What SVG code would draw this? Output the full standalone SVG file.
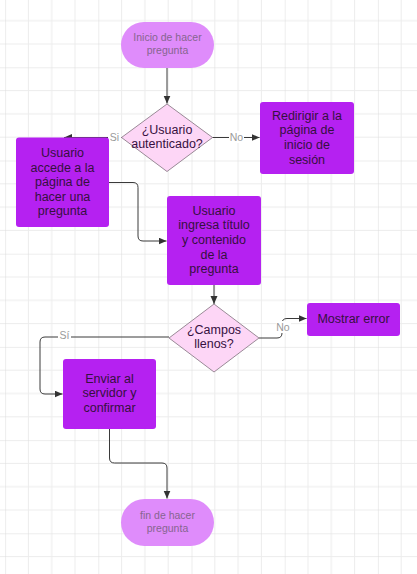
<svg xmlns="http://www.w3.org/2000/svg" width="417" height="574" viewBox="0 0 417 574">
<style>
.conn{fill:none;stroke:#3a3a3a;stroke-width:1}
.term{fill:#df8cfb}
.termt{font-family:"Liberation Sans",Arial,sans-serif;font-size:10.5px;fill:#86658f;text-anchor:middle}
.dec{fill:#fdd6f6;stroke:#9a8a97;stroke-width:1}
.proc{fill:#b521f1}
.t{font-family:"Liberation Sans",Arial,sans-serif;font-size:12.5px;fill:#36103f;text-anchor:middle}
.lbl{font-family:"Liberation Sans",Arial,sans-serif;font-size:10.5px;fill:#9a9a9a;text-anchor:middle}
.lbg{fill:#ffffff}
</style>
<defs>
<pattern id="grid" patternUnits="userSpaceOnUse" x="5.1" y="67.3" width="93.2" height="93.2">
<path d="M23.3 0V93.2M46.6 0V93.2M69.9 0V93.2M0 23.3H93.2M0 46.6H93.2M0 69.9H93.2" stroke="#ececec" stroke-width="1" fill="none"/>
<path d="M0 0V93.2M0 0H93.2" stroke="#dcdcdc" stroke-width="1" fill="none"/>
</pattern>
<marker id="arr" markerUnits="userSpaceOnUse" markerWidth="9" markerHeight="8" refX="8" refY="3.5" orient="auto">
<path d="M0 0L8 3.5L0 7z" fill="#333"/>
</marker>
</defs>
<rect x="0" y="0" width="417" height="574" fill="#ffffff"/>
<rect x="0" y="0" width="417" height="574" fill="url(#grid)"/>

<g id="connectors">
<path class="conn" d="M167 68V103.5" marker-end="url(#arr)"/>
<path class="conn" d="M122 137.5H64" marker-end="url(#arr)"/>
<path class="conn" d="M212 137.5H259.5" marker-end="url(#arr)"/>
<path class="conn" d="M109 182.5H133Q138 182.5 138 187.5V236Q138 241 143 241H166.5" marker-end="url(#arr)"/>
<path class="conn" d="M214 285V304" marker-end="url(#arr)"/>
<path class="conn" d="M259 338H277Q282 338 282 333V323.5Q282 318.5 287 318.5H306.5" marker-end="url(#arr)"/>
<path class="conn" d="M169 337H45Q40 337 40 342V389Q40 394 45 394H62.5" marker-end="url(#arr)"/>
<path class="conn" d="M109.5 429V458Q109.5 463 114.5 463H162Q167 463 167 468V498.5" marker-end="url(#arr)"/>
<rect class="lbg" x="108" y="131" width="13" height="12"/>
<text class="lbl" x="114.5" y="141">Si</text>
<rect class="lbg" x="229" y="131" width="15" height="12"/>
<text class="lbl" x="236.5" y="141">No</text>
<rect class="lbg" x="276" y="321" width="15" height="12"/>
<text class="lbl" x="283" y="331">No</text>
<rect class="lbg" x="58" y="329" width="13" height="12"/>
<text class="lbl" x="64.5" y="338.5">Sí</text>
</g>

<g id="inicio">
<rect class="term" x="121" y="22" width="93" height="46" rx="23"/>
<text class="termt" x="167.5" y="41">Inicio de hacer</text>
<text class="termt" x="167.5" y="54">pregunta</text>
</g>

<g id="autenticado">
<polygon class="dec" points="167,104 212.5,137.5 167,171.5 121.5,137.5"/>
<text class="t" x="167" y="133.7">¿Usuario</text>
<text class="t" x="167" y="147.7">autenticado?</text>
</g>

<g id="redirigir">
<rect class="proc" x="260" y="102" width="94" height="72" rx="3"/>
<text class="t" x="307" y="119.5">Redirigir a la</text>
<text class="t" x="307" y="134.3">página de</text>
<text class="t" x="307" y="149">inicio de</text>
<text class="t" x="307" y="163.8">sesión</text>
</g>

<g id="accede">
<rect class="proc" x="16" y="137.5" width="93" height="89.5" rx="3"/>
<text class="t" x="62.5" y="157">Usuario</text>
<text class="t" x="62.5" y="171.6">accede a la</text>
<text class="t" x="62.5" y="186.2">página de</text>
<text class="t" x="62.5" y="200.8">hacer una</text>
<text class="t" x="62.5" y="215.4">pregunta</text>
</g>

<g id="ingresa">
<rect class="proc" x="167" y="196" width="94" height="89" rx="3"/>
<text class="t" x="214" y="214.5">Usuario</text>
<text class="t" x="214" y="229.2">ingresa título</text>
<text class="t" x="214" y="243.9">y contenido</text>
<text class="t" x="214" y="258.6">de la</text>
<text class="t" x="214" y="273.3">pregunta</text>
</g>

<g id="campos">
<polygon class="dec" points="214,304 259,338 214,372 169,338"/>
<text class="t" x="214" y="333.6">¿Campos</text>
<text class="t" x="214" y="347.6">llenos?</text>
</g>

<g id="error">
<rect class="proc" x="307" y="303" width="93" height="33" rx="3"/>
<text class="t" x="353.5" y="323">Mostrar error</text>
</g>

<g id="enviar">
<rect class="proc" x="63" y="359" width="93" height="70" rx="3"/>
<text class="t" x="109.5" y="382.6">Enviar al</text>
<text class="t" x="109.5" y="397.4">servidor y</text>
<text class="t" x="109.5" y="412">confirmar</text>
</g>

<g id="fin">
<rect class="term" x="121" y="499" width="93" height="47" rx="23.5"/>
<text class="termt" x="167.5" y="518.5">fin de hacer</text>
<text class="termt" x="167.5" y="531.5">pregunta</text>
</g>
</svg>
